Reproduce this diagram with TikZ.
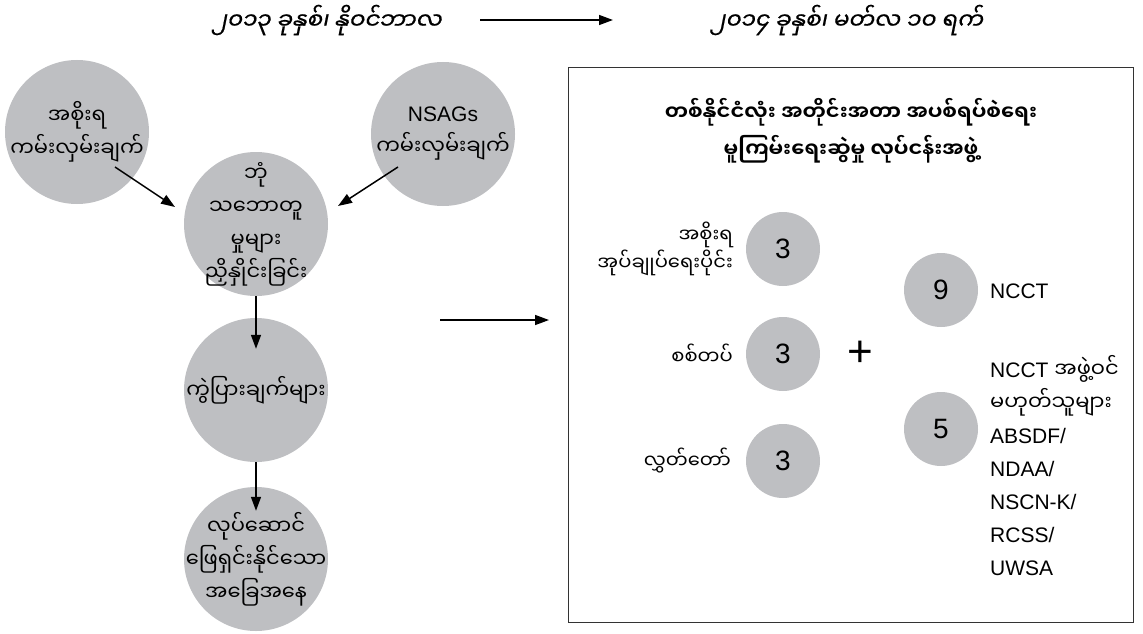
\documentclass[tikz,border=0pt]{standalone}
\usepackage{fontspec}
\setmainfont{Liberation Sans}
\newfontfamily\my[Script=Myanmar]{Noto Sans Myanmar UI}
\newfontfamily\myit[Script=Myanmar,FakeSlant=0.2,FakeBold=0.6]{Noto Sans Myanmar UI}
\newfontfamily\mybf[Script=Myanmar]{Noto Sans Myanmar UI Bold}
\newfontfamily\lat{Liberation Sans}
\usetikzlibrary{arrows.meta,calc}
\definecolor{bubgray}{RGB}{190,191,194}
\begin{document}
\begin{tikzpicture}[x=1pt,y=-1pt,
  bigbub/.style={circle,fill=bubgray,draw=none,minimum size=144pt,inner sep=0pt},
  smallbub/.style={circle,fill=bubgray,draw=none,minimum size=74pt,inner sep=0pt,font=\lat\fontsize{28}{30}\selectfont},
  bubtext/.style={align=center,font=\my\fontsize{21}{33}\selectfont,inner sep=0pt},
  lab/.style={font=\my\fontsize{19.5}{28}\selectfont,inner sep=0pt},
  latlab/.style={font=\lat\fontsize{21}{33}\selectfont,inner sep=0pt},
  ttl/.style={font=\myit\fontsize{23}{26}\selectfont,inner sep=0pt},
  arr/.style={line width=1.5pt,-{Triangle[length=14pt,width=10pt]}}]
\useasboundingbox (0,0) rectangle (1143,634);

% top titles
\node[ttl] (t1) at (326,20) {၂၀၁၃ ခုနှစ်၊ နိုဝင်ဘာလ};
\node[ttl] (t2) at (846,20) {၂၀၁၄ ခုနှစ်၊ မတ်လ ၁၀ ရက်};
\coordinate (ta) at (480,20);
\coordinate (tb) at (613,20);
\draw[arr] (ta) -- (tb);

% left flow
\node[bigbub] (gov) at (77,132) {};
\node[bubtext] at (gov) {အစိုးရ\\ကမ်းလှမ်းချက်};
\node[bigbub] (nsag) at (443,134) {};
\node[bubtext] at (nsag) {{\lat NSAGs}\\ကမ်းလှမ်းချက်};
\node[bigbub] (talk) at (256,224) {};
\node[bubtext] at (talk) {ဘုံ\\သဘောတူ\\မှုများ\\ညှိနှိုင်းခြင်း};
\node[bigbub] (diff) at (256,390) {};
\node[bubtext] at (diff) {ကွဲပြားချက်များ};
\node[bigbub] (cond) at (256,559) {};
\node[bubtext] at (cond) {လုပ်ဆောင်\\ဖြေရှင်းနိုင်သော\\အခြေအနေ};

\draw[arr] ($(gov)+(38,35)$) -- ($(talk)+(-81,-17)$);
\draw[arr] ($(nsag)+(-45,33)$) -- ($(talk)+(82,-18)$);
\draw[arr] (talk.south) -- ($(diff.north)+(0,31)$);
\draw[arr] (diff.south) -- ($(cond.north)+(0,24)$);

\coordinate (ma) at (440,320);
\coordinate (mb) at (549,320);
\draw[arr] (ma) -- (mb);

% box
\draw[line width=1pt,draw=black!80] (568,68) rectangle (1133,622);
\node[align=center,font=\mybf\fontsize{21}{37}\selectfont,inner sep=0pt] (bt) at (851,131)
  {တစ်နိုင်ငံလုံး အတိုင်းအတာ အပစ်ရပ်စဲရေး\\မူကြမ်းရေးဆွဲမှု လုပ်ငန်းအဖွဲ့};

\node[smallbub] (c1) at (783,249) {3};
\node[smallbub] (c2) at (783,354) {3};
\node[smallbub] (c3) at (783,461) {3};
\node[lab,align=right,anchor=east] (l1) at (733,249) {အစိုးရ\\အုပ်ချုပ်ရေးပိုင်း};
\node[lab,anchor=east] (l2) at (733,354) {စစ်တပ်};
\node[lab,anchor=east] (l3) at (731,461) {လွှတ်တော်};

\node[font=\lat\fontsize{44}{44}\selectfont,inner sep=0pt] (plus) at (860,354) {+};

\node[smallbub] (c4) at (941,290) {9};
\node[smallbub] (c5) at (941,429) {5};
\node[latlab,anchor=west] (l4) at (990,291) {NCCT};
\node[latlab,anchor=north west,align=left] (l5) at (990,355)
  {NCCT {\my အဖွဲ့ဝင်}\\{\my မဟုတ်သူများ}\\ABSDF/\\NDAA/\\NSCN-K/\\RCSS/\\UWSA};
\end{tikzpicture}
\end{document}
